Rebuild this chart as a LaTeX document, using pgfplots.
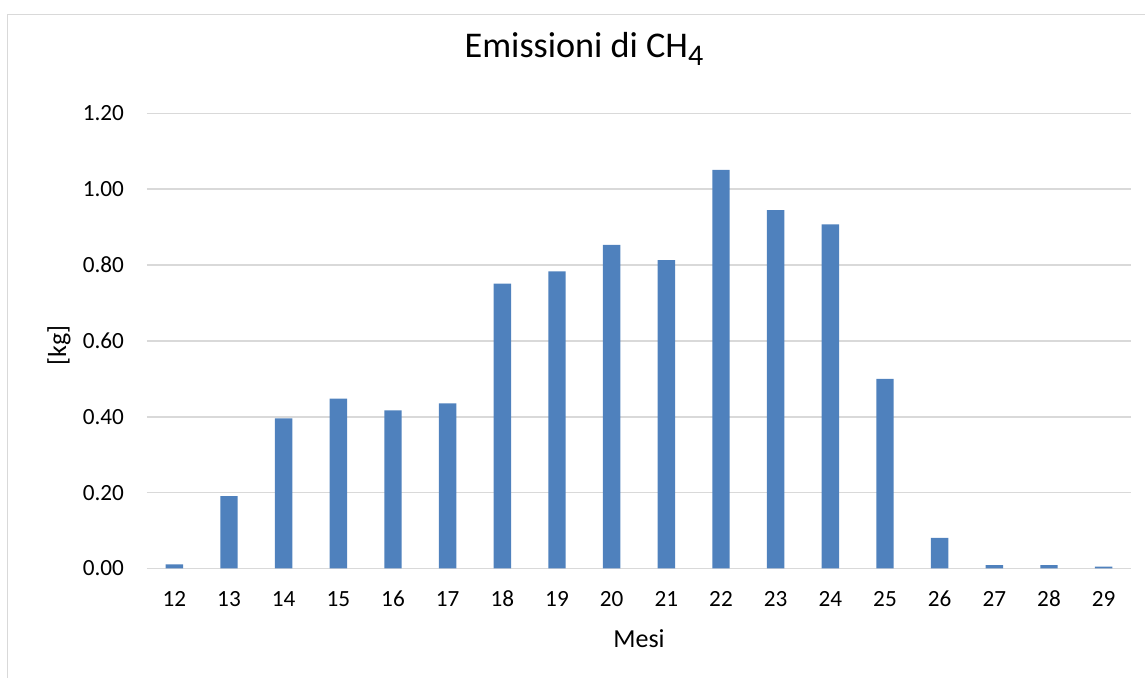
\documentclass[border=0pt]{standalone}
\usepackage{fontspec}
\setmainfont{Carlito}
\usepackage{pgfplots}
\pgfplotsset{compat=1.18}

\definecolor{barblue}{HTML}{4F81BD}
\definecolor{gridgrey}{HTML}{D9D9D9}

\begin{document}
\begin{tikzpicture}
% page extent and outer chart frame
\useasboundingbox (-73.5pt,-54.75pt) rectangle (499pt,284.25pt);
\draw[gridgrey, line width=0.8pt] (-69.75pt,-80pt) -- (-69.75pt,276.9pt) -- (520pt,276.9pt);

\begin{axis}[
  scale only axis,
  width=492pt, height=227.6pt,
  xmin=11.5, xmax=29.5,
  ymin=0, ymax=1.2,
  ybar, bar width=8.7pt, bar shift=0pt,
  xtick={12,...,29},
  ytick={0,0.2,...,1.2},
  major tick length=0pt,
  axis line style={draw=none},
  ymajorgrids,
  grid style={gridgrey, line width=0.75pt},
  /pgf/number format/assume math mode=true,
  yticklabel={\pgfmathprintnumber[fixed,fixed zerofill,precision=2]{\tick}},
  xticklabel style={font=\fontsize{11.6}{14}\selectfont, anchor=base, yshift=-19.25pt},
  yticklabel style={font=\fontsize{11.6}{14}\selectfont, xshift=-8pt},
  title={Emissioni di CH\raisebox{-4.35pt}{\fontsize{15}{18}\selectfont 4}},
  title style={font=\fontsize{18.1}{22}\selectfont, at={([yshift=22pt]axis description cs:0.4441,1)}, anchor=base},
  xlabel={Mesi},
  xlabel style={font=\fontsize{13}{16}\selectfont, at={([yshift=-34.9pt]axis description cs:0.5,0)}, anchor=center},
  ylabel={[kg]},
  ylabel style={font=\fontsize{13}{16}\selectfont, at={([xshift=-44pt,yshift=-2.3pt]axis description cs:0,0.5)}, anchor=center},
]
\addplot[fill=barblue, draw=none] coordinates {
  (12,0.011) (13,0.191) (14,0.396) (15,0.448) (16,0.417) (17,0.435)
  (18,0.751) (19,0.783) (20,0.853) (21,0.813) (22,1.051) (23,0.945)
  (24,0.907) (25,0.500) (26,0.081) (27,0.009) (28,0.009) (29,0.005)
};
\end{axis}
\end{tikzpicture}
\end{document}
